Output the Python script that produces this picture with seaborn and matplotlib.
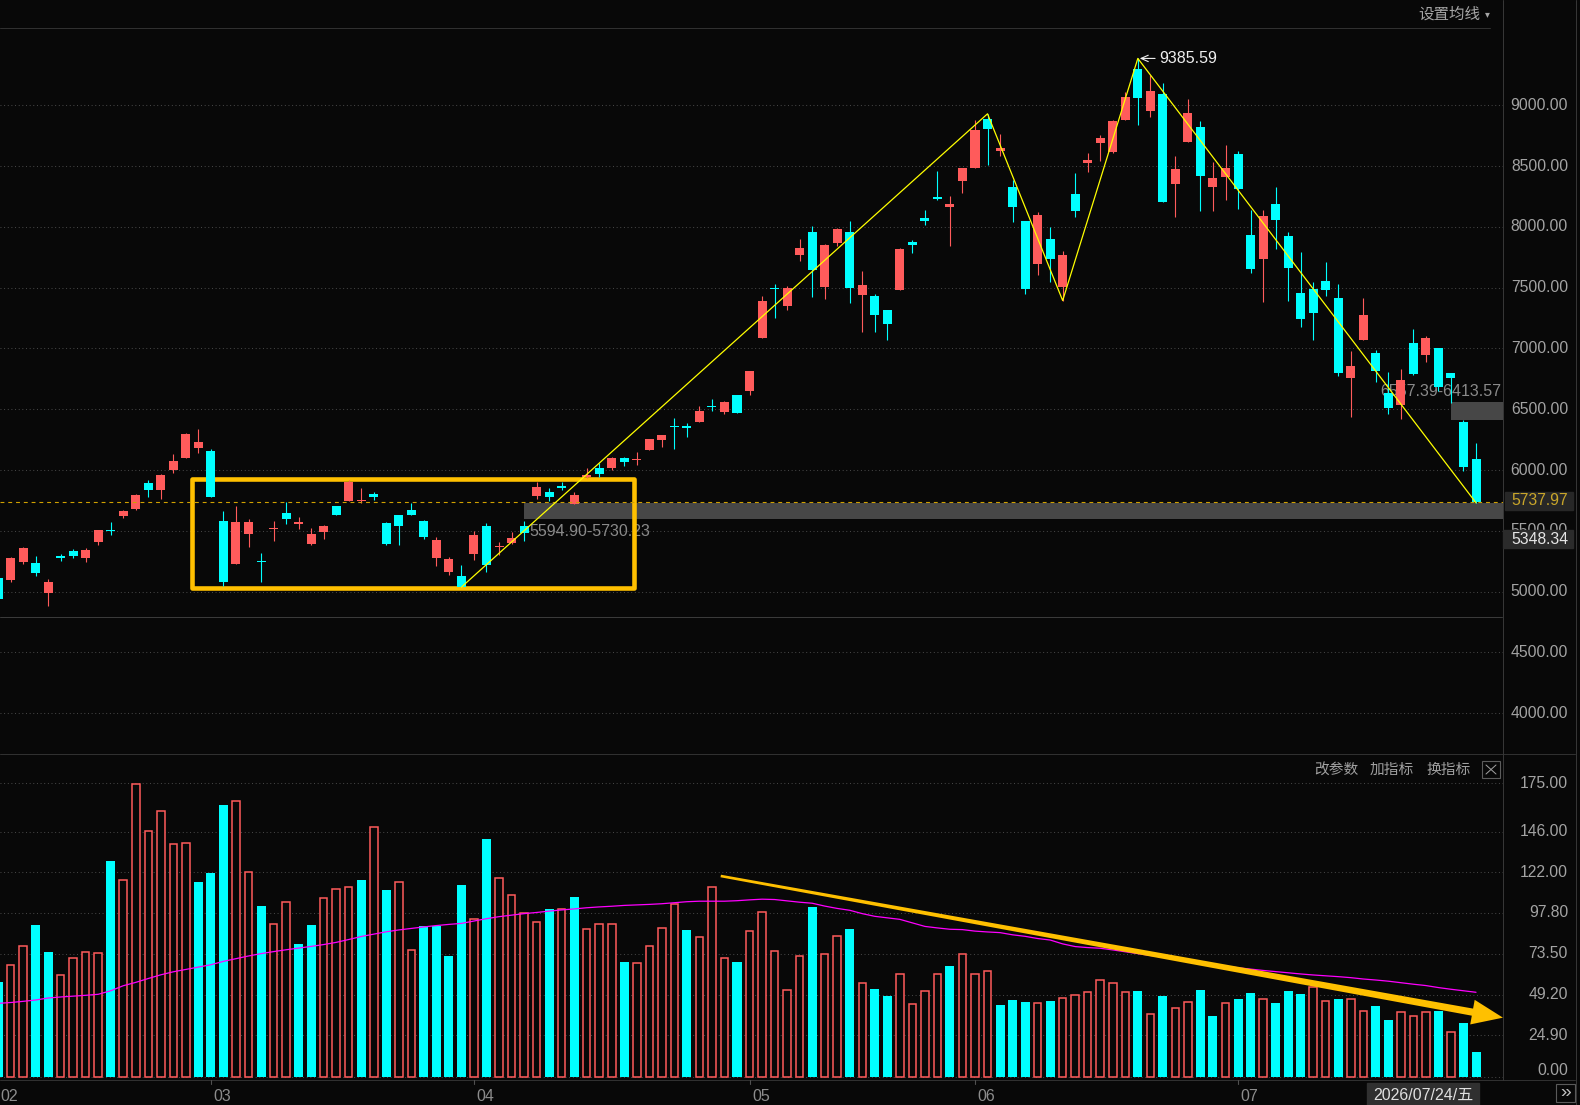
import numpy as np
import pandas as pd
import seaborn as sns
import matplotlib.pyplot as plt
from matplotlib.patches import Rectangle, Polygon
from matplotlib.lines import Line2D
from matplotlib.transforms import blended_transform_factory, IdentityTransform

# 日K数据
opens = [5110, 5095, 5243, 5235, 4988, 5290, 5334, 5276, 5408, 5502,
         5622, 5680, 5894, 5837, 6002, 6101, 6183, 6159, 5581, 5227,
         5474, 5250, 5515, 5647, 5552, 5392, 5493, 5705, 5746, 5745,
         5804, 5565, 5631, 5672, 5581, 5279, 5164, 5128, 5312, 5540,
         5364, 5402, 5540, 5790, 5820, 5872, 5724, 5940, 6014, 6014,
         6096, 6080, 6167, 6250, 6362, 6365, 6398, 6525, 6481, 6613,
         6646, 7084, 7495, 7345, 7767, 7956, 7502, 7865, 7956, 7436,
         7428, 7320, 7477, 7873, 8071, 8244, 8162, 8376, 8483, 8886,
         8623, 8326, 8047, 7692, 7898, 7502, 8269, 8524, 8689, 8615,
         8878, 9300, 8953, 9093, 8351, 8697, 8821, 8326, 8409, 8599,
         7932, 7733, 8186, 7923, 7453, 7486, 7552, 7411, 6753, 7073,
         6959, 6637, 6538, 7048, 6950, 7000, 6802, 6395, 6093]
highs = [5130, 5285, 5370, 5293, 5103, 5309, 5350, 5359, 5510, 5573,
         5672, 5804, 5919, 5965, 6134, 6307, 6340, 6175, 5664, 5705,
         5598, 5317, 5581, 5738, 5614, 5523, 5551, 5705, 5920, 5853,
         5820, 5570, 5631, 5730, 5590, 5449, 5284, 5219, 5499, 5565,
         5411, 5490, 5581, 5905, 5853, 5905, 5820, 6020, 6055, 6105,
         6105, 6146, 6258, 6291, 6431, 6390, 6530, 6588, 6570, 6621,
         6811, 7430, 7527, 7510, 7898, 8005, 7857, 7990, 8047, 7634,
         7444, 7320, 7824, 7890, 8137, 8458, 8252, 8483, 8880, 8930,
         8763, 8384, 8047, 8121, 7997, 7799, 8442, 8607, 8755, 8878,
         9110, 9385.59, 9250, 9184, 8582, 9052, 8870, 8533, 8673, 8623,
         8137, 8137, 8327, 7956, 7791, 7543, 7709, 7527, 6975, 7419,
         6991, 6810, 6835, 7164, 7106, 7000, 6802, 6414, 6225]
lows = [4930, 5080, 5225, 5128, 4880, 5251, 5276, 5243, 5383, 5466,
        5606, 5672, 5779, 5763, 5977, 6101, 6142, 5779, 5045, 5227,
        5367, 5081, 5416, 5556, 5518, 5383, 5436, 5626, 5746, 5727,
        5757, 5385, 5386, 5626, 5436, 5213, 5139, 5037, 5263, 5164,
        5304, 5393, 5416, 5765, 5749, 5836, 5724, 5938, 5940, 5997,
        6030, 6043, 6167, 6192, 6175, 6274, 6398, 6489, 6464, 6473,
        6613, 7084, 7254, 7320, 7717, 7420, 7403, 7840, 7370, 7139,
        7139, 7070, 7477, 7783, 8014, 8219, 7840, 8277, 8483, 8507,
        8582, 8038, 7444, 7601, 7543, 7394, 8080, 8450, 8541, 8607,
        8878, 8837, 8903, 8202, 8080, 8697, 8129, 8129, 8219, 8145,
        7618, 7378, 7816, 7387, 7180, 7070, 7428, 6777, 6440, 7073,
        6728, 6464, 6423, 6785, 6892, 6654, 6555, 5989, 5730]
closes = [4940, 5276, 5359, 5152, 5078, 5280, 5293, 5342, 5507, 5496,
          5664, 5796, 5837, 5960, 6076, 6299, 6233, 5779, 5078, 5573,
          5573, 5243, 5522, 5600, 5573, 5474, 5540, 5634, 5905, 5752,
          5774, 5392, 5543, 5631, 5449, 5425, 5268, 5037, 5466, 5221,
          5370, 5441, 5485, 5861, 5774, 5848, 5798, 5958, 5964, 6096,
          6063, 6088, 6258, 6291, 6352, 6349, 6489, 6518, 6563, 6473,
          6811, 7389, 7487, 7494, 7824, 7643, 7849, 7981, 7494, 7519,
          7271, 7205, 7816, 7849, 8047, 8227, 8186, 8483, 8796, 8804,
          8647, 8162, 7485, 8096, 7733, 7766, 8129, 8549, 8730, 8870,
          9068, 9061, 9118, 8202, 8475, 8936, 8417, 8401, 8483, 8310,
          7651, 8088, 8055, 7659, 7246, 7288, 7477, 6802, 6852, 7279,
          6818, 6514, 6744, 6793, 7090, 6686, 6753, 6024, 5737.97]

volumes = [56.7, 66.7, 78.0, 90.7, 74.6, 60.7, 70.8, 74.4, 73.8, 128.7,
           117.3, 174.4, 146.4, 158.3, 138.7, 139.3, 116.3, 121.6, 162.1, 164.3,
           122.0, 102.0, 91.1, 104.2, 79.3, 90.7, 106.5, 111.9, 113.1, 117.4,
           148.8, 111.3, 116.0, 75.6, 90.1, 90.1, 72.2, 114.5, 94.0, 141.8,
           118.6, 108.3, 97.6, 92.3, 100.2, 100.0, 107.3, 88.1, 91.1, 91.1,
           68.6, 67.8, 78.0, 88.7, 103.0, 87.7, 83.3, 113.1, 70.8, 68.6,
           86.9, 98.2, 75.0, 51.8, 72.0, 101.4, 73.2, 83.9, 88.3, 55.9,
           52.6, 48.4, 61.3, 43.4, 51.2, 61.3, 66.3, 73.2, 61.3, 63.1,
           43.0, 46.0, 44.8, 44.0, 45.4, 47.0, 48.8, 50.6, 57.7, 55.9,
           50.6, 51.4, 37.5, 48.4, 41.1, 44.6, 52.0, 36.5, 44.0, 46.6,
           50.2, 46.4, 44.2, 51.4, 49.6, 53.9, 45.4, 46.6, 46.6, 39.5,
           42.4, 34.1, 38.7, 36.3, 38.7, 39.7, 26.8, 32.3, 15.1]
vol_ma = [44.0, 44.5, 45.2, 46.0, 47.2, 47.8, 48.3, 48.8, 49.4, 51.5,
          54.5, 56.5, 58.8, 61.0, 62.8, 64.2, 65.6, 67.0, 69.0, 70.6,
          72.2, 73.6, 74.8, 75.9, 76.9, 77.9, 79.0, 80.3, 82.0, 83.8,
          85.2, 86.6, 87.7, 88.6, 89.5, 90.3, 91.0, 91.6, 93.0, 94.4,
          95.6, 96.5, 97.4, 98.1, 98.9, 99.6, 100.2, 100.9, 101.4, 101.8,
          102.3, 102.6, 102.9, 103.3, 103.9, 104.5, 104.8, 104.8, 104.8, 105.1,
          105.6, 106.0, 105.8, 105.0, 104.2, 103.6, 101.9, 100.5, 99.4, 97.4,
          95.8, 94.9, 94.0, 91.9, 89.8, 88.9, 88.1, 87.9, 87.0, 86.5,
          86.1, 84.8, 83.9, 82.6, 81.7, 79.4, 77.8, 77.2, 76.8, 75.8,
          74.7, 73.6, 72.5, 71.5, 70.4, 69.4, 68.3, 67.2, 66.1, 65.2,
          64.4, 63.6, 62.9, 62.2, 61.5, 60.9, 60.4, 59.9, 59.3, 58.5,
          57.9, 57.2, 56.3, 55.4, 54.6, 53.4, 52.4, 51.5, 50.6]
# 成交量柱颜色: u=涨(空心红) d=跌(实心青)
vol_dir = ("duudduuuud" "uuuuuudddu" "uduudduuud" "uduuddddud"
           "uuuududuuu" "duuuuduuud" "uuuuuduudu" "dduuuuduuu"
           "ddduduuuuu" "ududuuddud" "duddduuduu" "dduuududd")

month_labels = ['02', '03', '04', '05', '06', '07']
month_starts = [0, 17, 38, 60, 78, 99]
price_ticks = [9000, 8500, 8000, 7500, 7000, 6500, 6000, 5500, 5000, 4500, 4000]
vol_ticks = [175.00, 146.00, 122.00, 97.80, 73.50, 49.20, 24.90, 0.00]
zigzag_idx = [37, 79, 85, 91, 118]
zigzag_kind = ['L', 'H', 'L', 'H', 'L']
zones = [(42, 5594.90, 5730.23), (116, 6413.57, 6557.39)]
last_price = 5737.97

BG = '#080808'
RED = '#ff5b5b'
CYAN = '#00ffff'
GRID = '#4a4a4a'
LINE = '#303030'
TXT = '#a3a3a3'

sns.set_style('dark', {'axes.facecolor': BG, 'figure.facecolor': BG})
plt.rcParams['font.family'] = ['Liberation Sans', 'Noto Sans CJK SC', 'DejaVu Sans']

W, H = 1580, 1105
fig = plt.figure(figsize=(W / 100, H / 100), dpi=100)
fig.patch.set_facecolor(BG)


def fx(px):
    return px / W


def fy(py):
    return 1 - py / H


def fline(x0, y0, x1, y1, color=LINE, lw=1.0):
    fig.add_artist(Line2D([fx(x0), fx(x1)], [fy(y0), fy(y1)], color=color,
                          lw=lw * 0.72, transform=fig.transFigure))


ax = fig.add_axes([0, fy(752), fx(1502.7), (752 - 29) / H])
axv = fig.add_axes([0, fy(1080), fx(1502.7), (1080 - 754) / H])
for a in (ax, axv):
    a.set_facecolor(BG)
    a.set_xlim(0.16, 120.13)
    for s in a.spines.values():
        s.set_visible(False)
    a.set_xticks([])
    a.set_yticks([])
    a.grid(False)
ax.set_ylim(3680.5, 9627.6)
axv.set_ylim(-1.6, 192.4)

x = np.arange(len(opens))
o, h, l, c = (np.array(v, dtype=float) for v in (opens, highs, lows, closes))
vol = np.array(volumes)
up = c >= o
col = np.where(up, RED, CYAN)

# 网格
for p in price_ticks:
    ax.axhline(p, color=GRID, lw=0.75, ls=(0, (0.9, 2.6)), zorder=0.5)
for v in vol_ticks:
    axv.axhline(v, color=GRID, lw=0.75, ls=(0, (0.9, 2.6)), zorder=0.5)

# 区间灰条
for start, lo, hi in zones:
    ax.add_patch(Rectangle((start, lo), 120.13 - start, hi - lo, color='#474747',
                           lw=0, zorder=1))
ax.text(42.4, 5498, '5594.90-5730.23', color='#8a8a8a', fontsize=11.5,
        ha='left', va='center', zorder=2)
ax.text(120.0, 6646, '6557.39-6413.57', color='#8a8a8a', fontsize=11.5,
        ha='right', va='center', zorder=2)

# 横盘框
ax.add_patch(Rectangle((15.45, 5029), 50.8 - 15.45, 5926 - 5029, fill=False,
                       ec='#ffc000', lw=3.3, joinstyle='round', zorder=2.5))

# K线
ax.vlines(x, l, h, colors=col, lw=0.8, zorder=3)
body_lo = np.minimum(o, c)
body_h = np.maximum(np.abs(c - o), 11)
ax.bar(x, body_h, bottom=body_lo, width=0.72, color=col, lw=0, zorder=4)

# 现价线
ax.axhline(last_price, color='#d0a000', lw=0.8, ls=(0, (3.5, 3.5)), zorder=5)

# 折线
zz = pd.DataFrame({'i': zigzag_idx,
                   'p': [h[i] if k == 'H' else l[i] for i, k in zip(zigzag_idx, zigzag_kind)]})
sns.lineplot(data=zz, x='i', y='p', ax=ax, color='#ffff00', lw=0.9, sort=False,
             zorder=6)
ax.set_xlabel('')
ax.set_ylabel('')

# 最高点标注
top_i = int(np.argmax(h))
ax.annotate(f'{h[top_i]:.2f}', xy=(top_i + 0.15, h[top_i]), xytext=(92.75, h[top_i]),
            color='#eeeeee', fontsize=11.5, ha='left', va='center', zorder=7,
            arrowprops=dict(arrowstyle='->,head_length=0.45,head_width=0.2',
                            color='#eeeeee', lw=0.8, shrinkA=1, shrinkB=0))

# 成交量
vu = np.array([ch == 'u' for ch in vol_dir])
axv.bar(x[~vu], vol[~vu], width=0.72, color=CYAN, lw=0, zorder=3)
axv.bar(x[vu], vol[vu], width=0.60, facecolor=BG, edgecolor=RED, lw=1.1, zorder=3)
sns.lineplot(x=x, y=vol_ma, ax=axv, color='#ff00ff', lw=0.9, zorder=4)
axv.set_xlabel('')
axv.set_ylabel('')

# 缩量箭头
fig.canvas.draw()
s = axv.transData.transform((57.7, 119.8))
t = axv.transData.transform((120.15, 35.5))
u = (t - s) / np.hypot(*(t - s))
n = np.array([-u[1], u[0]])
b = t - 31 * u
pts = [s + 1.3 * n, b + 3.6 * n, b + 12.5 * n, t, b - 12.5 * n, b - 3.6 * n, s - 1.3 * n]
axv.add_patch(Polygon(pts, closed=True, color='#ffc000', lw=0,
                      transform=IdentityTransform(), clip_on=False, zorder=6))

# 右侧刻度
tr_p = blended_transform_factory(fig.transFigure, ax.transData)
tr_v = blended_transform_factory(fig.transFigure, axv.transData)
for p in price_ticks:
    fig.text(fx(1568), p, f'{p:.2f}', transform=tr_p, color=TXT, fontsize=11.3,
             ha='right', va='center', zorder=3)
for v in vol_ticks[:-1]:
    fig.text(fx(1568), v, f'{v:.2f}', transform=tr_v, color=TXT, fontsize=11.3,
             ha='right', va='center', zorder=3)
fig.text(fx(1568), fy(1070.7), '0.00', color=TXT, fontsize=11.3, ha='right',
         va='center')

# 现价标签 (盖在刻度上面)
fig.add_artist(Rectangle((fx(1505), fy(510)), fx(68), 18 / H, color='#272727',
                         transform=fig.transFigure, zorder=8))
fig.text(fx(1568), fy(501), f'{last_price:.2f}', color='#c9a62a', fontsize=11.3,
         ha='right', va='center', zorder=9)
fig.add_artist(Rectangle((fx(1503), fy(548)), fx(70), 18 / H, color='#2b2b2b',
                         transform=fig.transFigure, zorder=8))
fig.text(fx(1568), fy(539), '5348.34', color='#e6e6e6', fontsize=11.3,
         ha='right', va='center', zorder=9)

# 分隔线
fline(0, 28.3, 1490, 28.3)
fline(0, 617.3, 1502, 617.3, color='#3a3a3a')
fline(0, 754, 1575, 754)
fline(0, 1079.5, 1575, 1079.5)
fline(1502.7, 0, 1502.7, 1080, color='#363636')
fline(1575.5, 0, 1575.5, 1105, color='#363636')

# 顶部/指标栏文字
fig.text(fx(1480), fy(14), '设置均线', color='#a6a6a6', fontsize=11.2, ha='right',
         va='center')
fig.text(fx(1487), fy(14), '▾', color='#a6a6a6', fontsize=7, ha='center',
         va='center')
for xx, t_ in zip([1314, 1370, 1426], ['改参数', '加指标', '换指标']):
    fig.text(fx(xx), fy(769.5), t_, color='#a0a0a0', fontsize=10.6, ha='left',
             va='center')
fig.add_artist(Rectangle((fx(1482), fy(778)), fx(18), 17 / H, fill=False,
                         ec='#5c5c5c', lw=0.8, transform=fig.transFigure))
fline(1486, 765, 1496, 774, color='#a0a0a0')
fline(1486, 774, 1496, 765, color='#a0a0a0')

# 月份
tr_m = blended_transform_factory(axv.transData, fig.transFigure)
for ms, lab in zip(month_starts, month_labels):
    fig.add_artist(Line2D([ms, ms], [fy(1080), fy(1084)], color='#505050',
                          lw=0.8, transform=tr_m))
    fig.text(ms + 0.2, fy(1096.5), lab, transform=tr_m, color='#8c8c8c',
             fontsize=11.5, ha='left', va='center')

fig.add_artist(Rectangle((fx(1367), fy(1105)), fx(112), 22 / H, color='#303030',
                         transform=fig.transFigure))
fig.text(fx(1423), fy(1095), '2026/07/24/五', color='#e0e0e0', fontsize=11.5,
         ha='center', va='center')
fig.add_artist(Rectangle((fx(1556), fy(1102)), fx(19), 18 / H, fill=False,
                         ec='#5a5a5a', lw=0.8, transform=fig.transFigure))
fig.text(fx(1565.5), fy(1093), '»', color='#c0c0c0', fontsize=14, ha='center',
         va='center')

fig.savefig('out.png', dpi=100, facecolor=BG)
